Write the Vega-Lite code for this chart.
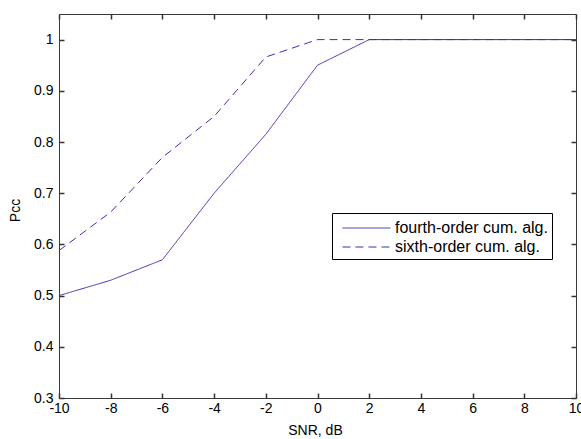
{
  "$schema": "https://vega.github.io/schema/vega-lite/v6.json",
  "width": 517,
  "height": 384,
  "autosize": {"type": "none"},
  "padding": {"left": 59, "top": 14, "right": 5, "bottom": 41},
  "background": "white",
  "config": {
    "view": {"stroke": "#3a3a3a", "strokeWidth": 1},
    "font": "Liberation Sans",
    "axis": {
      "grid": false,
      "domain": false,
      "ticks": true,
      "tickColor": "#333333",
      "tickWidth": 1.5,
      "tickSize": -5,
      "labelColor": "black",
      "labelFont": "Liberation Sans",
      "labelFontSize": 14,
      "titleFont": "Liberation Sans",
      "titleFontSize": 14,
      "titleFontWeight": "normal",
      "titleColor": "black"
    }
  },
  "data": {
    "values": [
      {"snr": -10, "pcc": 0.50, "series": "fourth-order cum. alg."},
      {"snr": -8, "pcc": 0.53, "series": "fourth-order cum. alg."},
      {"snr": -6, "pcc": 0.57, "series": "fourth-order cum. alg."},
      {"snr": -4, "pcc": 0.70, "series": "fourth-order cum. alg."},
      {"snr": -2, "pcc": 0.815, "series": "fourth-order cum. alg."},
      {"snr": 0, "pcc": 0.95, "series": "fourth-order cum. alg."},
      {"snr": 2, "pcc": 1.0, "series": "fourth-order cum. alg."},
      {"snr": 4, "pcc": 1.0, "series": "fourth-order cum. alg."},
      {"snr": 6, "pcc": 1.0, "series": "fourth-order cum. alg."},
      {"snr": 8, "pcc": 1.0, "series": "fourth-order cum. alg."},
      {"snr": 10, "pcc": 1.0, "series": "fourth-order cum. alg."},
      {"snr": -10, "pcc": 0.588, "series": "sixth-order cum. alg."},
      {"snr": -8, "pcc": 0.663, "series": "sixth-order cum. alg."},
      {"snr": -6, "pcc": 0.77, "series": "sixth-order cum. alg."},
      {"snr": -4, "pcc": 0.85, "series": "sixth-order cum. alg."},
      {"snr": -2, "pcc": 0.966, "series": "sixth-order cum. alg."},
      {"snr": 0, "pcc": 1.0, "series": "sixth-order cum. alg."},
      {"snr": 2, "pcc": 1.0, "series": "sixth-order cum. alg."},
      {"snr": 4, "pcc": 1.0, "series": "sixth-order cum. alg."},
      {"snr": 6, "pcc": 1.0, "series": "sixth-order cum. alg."},
      {"snr": 8, "pcc": 1.0, "series": "sixth-order cum. alg."},
      {"snr": 10, "pcc": 1.0, "series": "sixth-order cum. alg."}
    ]
  },
  "layer": [
    {
      "mark": {"type": "line", "strokeWidth": 1, "clip": true},
      "encoding": {
        "x": {
          "field": "snr", "type": "quantitative",
          "scale": {"domain": [-10, 10], "nice": false, "zero": false},
          "axis": {
            "orient": "bottom", "title": "SNR, dB",
            "tickCount": 10,
            "labelExpr": "toString(datum.value)",
            "labelPadding": 8,
            "labelFlush": false,
            "titleX": 256, "titleY": 32, "titleBaseline": "middle"
          }
        },
        "y": {
          "field": "pcc", "type": "quantitative",
          "scale": {"domain": [0.3, 1.05], "nice": false, "zero": false},
          "axis": {
            "orient": "left", "title": "Pcc",
            "tickCount": 8,
            "labelExpr": "toString(datum.value)",
            "labelPadding": 11,
            "labelFlush": false,
            "titleX": -44, "titleY": 196, "titleBaseline": "middle", "titleAlign": "center", "titleAngle": -90
          }
        },
        "color": {
          "field": "series", "type": "nominal",
          "scale": {"domain": ["fourth-order cum. alg.", "sixth-order cum. alg."], "range": ["#3434b0", "#3434b0"]},
          "legend": {
            "orient": "none",
            "legendX": 273,
            "legendY": 199,
            "title": null,
            "fillColor": "white",
            "strokeColor": "black",
            "padding": 4,
            "symbolType": "M-2.29,0H2.29",
            "symbolSize": 441,
            "symbolStrokeWidth": 1,
            "symbolOffset": 19.5,
            "labelFont": "Liberation Sans",
            "labelFontSize": 16,
            "labelColor": "black",
            "labelOffset": 17.5,
            "rowPadding": 0
          }
        },
        "strokeDash": {
          "field": "series", "type": "nominal",
          "scale": {"domain": ["fourth-order cum. alg.", "sixth-order cum. alg."], "range": [[1, 0], [8, 5]]},
          "legend": {
            "orient": "none",
            "legendX": 273,
            "legendY": 199,
            "title": null,
            "fillColor": "white",
            "strokeColor": "black",
            "padding": 4,
            "symbolType": "M-2.29,0H2.29",
            "symbolSize": 441,
            "symbolStrokeWidth": 1,
            "symbolOffset": 19.5,
            "labelFont": "Liberation Sans",
            "labelFontSize": 16,
            "labelColor": "black",
            "labelOffset": 17.5,
            "rowPadding": 0
          }
        }
      }
    },
    {
      "mark": {"type": "line", "strokeOpacity": 0},
      "encoding": {
        "x": {
          "field": "snr", "type": "quantitative",
          "axis": {"orient": "top", "title": null, "labels": false, "tickCount": 10}
        },
        "y": {
          "field": "pcc", "type": "quantitative",
          "axis": {"orient": "right", "title": null, "labels": false, "tickCount": 8}
        },
        "detail": {"field": "series"}
      }
    }
  ],
  "resolve": {"axis": {"x": "independent", "y": "independent"}}
}
